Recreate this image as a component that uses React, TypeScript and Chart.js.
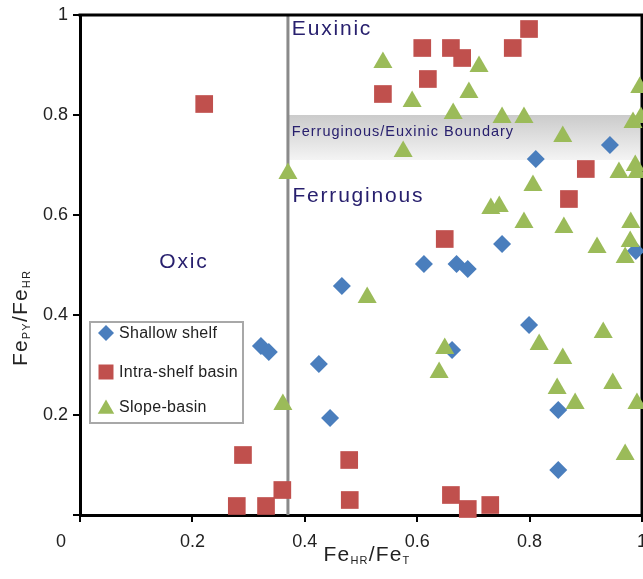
import React, { useEffect, useRef } from 'react';
import { Chart, registerables } from 'chart.js';

Chart.register(...registerables);

// ---------- data ----------
const shallowShelf: [number, number][] = [
  [0.943, 0.740], [0.811, 0.712], [0.751, 0.542], [0.612, 0.502], [0.670, 0.502],
  [0.690, 0.492], [0.466, 0.458], [0.989, 0.528], [0.799, 0.380], [0.662, 0.330],
  [0.851, 0.210], [0.851, 0.090], [0.445, 0.194], [0.425, 0.302], [0.322, 0.338],
  [0.336, 0.326],
];

const intraShelfBasin: [number, number][] = [
  [0.221, 0.822], [0.539, 0.842], [0.609, 0.934], [0.660, 0.934], [0.680, 0.914],
  [0.619, 0.872], [0.770, 0.934], [0.799, 0.972], [0.900, 0.692], [0.870, 0.632],
  [0.649, 0.552], [0.290, 0.120], [0.279, 0.018], [0.331, 0.018], [0.360, 0.050],
  [0.479, 0.110], [0.480, 0.030], [0.660, 0.040], [0.690, 0.012], [0.730, 0.020],
];

const slopeBasin: [number, number][] = [
  [0.539, 0.905], [0.710, 0.897], [0.591, 0.827], [0.692, 0.845], [0.664, 0.803],
  [0.751, 0.795], [0.790, 0.795], [0.575, 0.727], [0.859, 0.757], [0.984, 0.785],
  [0.998, 0.795], [0.996, 0.855], [0.959, 0.685], [0.988, 0.699], [0.991, 0.685],
  [0.806, 0.659], [0.731, 0.613], [0.746, 0.617], [0.790, 0.585], [0.861, 0.575],
  [0.980, 0.585], [0.920, 0.535], [0.979, 0.547], [0.970, 0.515], [0.511, 0.435],
  [0.370, 0.683], [0.649, 0.333], [0.639, 0.285], [0.817, 0.341], [0.931, 0.365],
  [0.859, 0.313], [0.849, 0.253], [0.881, 0.223], [0.948, 0.263], [0.991, 0.223],
  [0.970, 0.121], [0.361, 0.221],
];

const seriesNames = ['Shallow shelf', 'Intra-shelf basin', 'Slope-basin'];
const seriesColors = ['#4a7ebd', '#c0504d', '#9bbb59'];
const tickValues = [0, 0.2, 0.4, 0.6, 0.8, 1];

const boundaryX = 0.37;
const bandBottom = 0.71;
const bandTop = 0.80;

const regionLabels: { text: string; x: number; y: number; size: number; spacing: number }[] = [
  { text: 'Euxinic', x: 0.377, y: 0.96, size: 21, spacing: 1.8 },
  { text: 'Ferruginous/Euxinic Boundary', x: 0.377, y: 0.758, size: 14.5, spacing: 1 },
  { text: 'Ferruginous', x: 0.378, y: 0.627, size: 21, spacing: 1.8 },
  { text: 'Oxic', x: 0.141, y: 0.494, size: 21, spacing: 1.8 },
];

const FONT = '"Liberation Sans", Arial, sans-serif';
const LABEL_COLOR = '#28206e';

const fmt = (v: number) => (v === 0 ? '' : String(+v.toFixed(1)));

function drawMarker(ctx: CanvasRenderingContext2D, kind: number, cx: number, cy: number, r: number) {
  ctx.beginPath();
  if (kind === 0) {
    ctx.moveTo(cx - r, cy);
    ctx.lineTo(cx, cy - r);
    ctx.lineTo(cx + r, cy);
    ctx.lineTo(cx, cy + r);
  } else if (kind === 1) {
    const s = r * Math.SQRT1_2;
    ctx.rect(cx - s, cy - s, 2 * s, 2 * s);
  } else {
    ctx.moveTo(cx, cy - r);
    ctx.lineTo(cx + r * 0.866, cy + r * 0.5);
    ctx.lineTo(cx - r * 0.866, cy + r * 0.5);
  }
  ctx.closePath();
  ctx.fillStyle = seriesColors[kind];
  ctx.fill();
}

// draw text runs with subscripts along current baseline
function drawRuns(ctx: CanvasRenderingContext2D, runs: { t: string; sub?: boolean }[], x: number, y: number, spacing: number) {
  let cx = x;
  for (const r of runs) {
    ctx.font = r.sub ? `11px ${FONT}` : `21px ${FONT}`;
    (ctx as any).letterSpacing = `${spacing}px`;
    ctx.fillText(r.t, cx, r.sub ? y + 3 : y);
    cx += ctx.measureText(r.t).width;
  }
  (ctx as any).letterSpacing = '0px';
}

function runsWidth(ctx: CanvasRenderingContext2D, runs: { t: string; sub?: boolean }[], spacing: number) {
  let w = 0;
  for (const r of runs) {
    ctx.font = r.sub ? `11px ${FONT}` : `21px ${FONT}`;
    (ctx as any).letterSpacing = `${spacing}px`;
    w += ctx.measureText(r.t).width;
  }
  (ctx as any).letterSpacing = '0px';
  return w;
}

const decorPlugin = {
  id: 'decor',
  beforeDatasetsDraw(chart: any) {
    const { ctx, chartArea: a, scales } = chart;
    const x = scales.x, y = scales.y;
    ctx.save();
    // boundary band
    const bx0 = x.getPixelForValue(boundaryX);
    const bx1 = x.getPixelForValue(1);
    const by0 = y.getPixelForValue(bandTop);
    const by1 = y.getPixelForValue(bandBottom);
    const g = ctx.createLinearGradient(0, by0, 0, by1);
    g.addColorStop(0, '#cbcbcb');
    g.addColorStop(1, '#f4f4f4');
    ctx.fillStyle = g;
    ctx.fillRect(bx0, by0, bx1 - bx0, by1 - by0);
    // vertical boundary line
    ctx.strokeStyle = '#8a8a8a';
    ctx.lineWidth = 3;
    ctx.beginPath();
    ctx.moveTo(bx0, y.getPixelForValue(0));
    ctx.lineTo(bx0, y.getPixelForValue(1));
    ctx.stroke();
    // top and right frame
    ctx.strokeStyle = '#000';
    ctx.lineWidth = 3;
    ctx.beginPath();
    ctx.moveTo(a.left - 1.5, a.top);
    ctx.lineTo(a.right, a.top);
    ctx.lineTo(a.right, a.bottom);
    ctx.stroke();
    // region labels
    ctx.fillStyle = LABEL_COLOR;
    ctx.textAlign = 'left';
    ctx.textBaseline = 'alphabetic';
    for (const l of regionLabels) {
      ctx.font = `${l.size}px ${FONT}`;
      (ctx as any).letterSpacing = `${l.spacing}px`;
      ctx.fillText(l.text, x.getPixelForValue(l.x), y.getPixelForValue(l.y));
    }
    (ctx as any).letterSpacing = '0px';
    ctx.restore();
  },
  afterDatasetsDraw(chart: any) {
    const { ctx, chartArea: a, scales } = chart;
    const x = scales.x;
    ctx.save();
    // legend
    const lx = a.left + 10, ly = a.top + 307, lw = 153, lh = 101;
    ctx.fillStyle = '#fff';
    ctx.fillRect(lx, ly, lw, lh);
    ctx.strokeStyle = '#a8a8a8';
    ctx.lineWidth = 2;
    ctx.strokeRect(lx, ly, lw, lh);
    const rows = [ly + 11, ly + 50, ly + 85];
    const rad = [8, 10.6, 9.5];
    ctx.font = `16px ${FONT}`;
    ctx.textBaseline = 'middle';
    ctx.textAlign = 'left';
    for (let i = 0; i < 3; i++) {
      drawMarker(ctx, i, lx + 16, rows[i] + (i === 2 ? 2 : 0), rad[i]);
      ctx.fillStyle = '#222';
      (ctx as any).letterSpacing = '0.3px';
      ctx.fillText(seriesNames[i], lx + 29, rows[i] + 1);
    }
    (ctx as any).letterSpacing = '0px';
    // origin label "0"
    ctx.font = `18px ${FONT}`;
    ctx.fillStyle = '#222';
    ctx.textAlign = 'center';
    ctx.textBaseline = 'alphabetic';
    ctx.fillText('0', x.getPixelForValue(0) - 19, a.bottom + 32);
    // axis titles
    ctx.fillStyle = '#222';
    ctx.textAlign = 'left';
    const xRuns = [{ t: 'Fe' }, { t: 'HR', sub: true }, { t: '/Fe' }, { t: 'T', sub: true }];
    const xw = runsWidth(ctx, xRuns, 1.2);
    drawRuns(ctx, xRuns, (a.left + a.right) / 2 + 6 - xw / 2, a.bottom + 46, 1.2);
    const yRuns = [{ t: 'Fe' }, { t: 'PY', sub: true }, { t: '/Fe' }, { t: 'HR', sub: true }];
    const yw = runsWidth(ctx, yRuns, 1.2);
    ctx.translate(27, 318);
    ctx.rotate(-Math.PI / 2);
    drawRuns(ctx, yRuns, -yw / 2, 0, 1.2);
    ctx.restore();
  },
};

const toPts = (arr: [number, number][]) => arr.map(([x, y]) => ({ x, y }));

export default function App() {
  const ref = useRef<HTMLCanvasElement | null>(null);
  useEffect(() => {
    if (!ref.current) return;
    const tickFont = { family: FONT, size: 18 };
    const chart = new Chart(ref.current, {
      type: 'scatter',
      data: {
        datasets: [
          {
            label: seriesNames[0], data: toPts(shallowShelf), pointStyle: 'rectRot', pointRadius: 9,
            backgroundColor: seriesColors[0], borderColor: seriesColors[0], borderWidth: 0, order: 2, clip: false,
          },
          {
            label: seriesNames[1], data: toPts(intraShelfBasin), pointStyle: 'rect', pointRadius: 12.5,
            backgroundColor: seriesColors[1], borderColor: seriesColors[1], borderWidth: 0, order: 1, clip: false,
          },
          {
            label: seriesNames[2], data: toPts(slopeBasin), pointStyle: 'triangle', pointRadius: 11,
            backgroundColor: seriesColors[2], borderColor: seriesColors[2], borderWidth: 0, order: 0, clip: false,
          },
        ] as any,
      },
      options: {
        animation: false,
        responsive: false,
        layout: { autoPadding: false, padding: { top: 15, right: 1, left: 0, bottom: 0 } },
        plugins: { legend: { display: false }, tooltip: { enabled: false } },
        scales: {
          x: {
            type: 'linear', min: 0, max: 1,
            afterBuildTicks: (s: any) => { s.ticks = tickValues.map((v) => ({ value: v })); },
            afterFit: (s: any) => { s.height = 64; s.paddingLeft = 0; s.paddingRight = 0; },
            ticks: { callback: (v: any) => fmt(+v), font: tickFont, color: '#222', padding: 9, maxRotation: 0, autoSkip: false },
            grid: { display: true, drawOnChartArea: false, drawTicks: true, tickLength: 7, color: '#000', lineWidth: 2 },
            border: { display: true, width: 3, color: '#000' },
          },
          y: {
            type: 'linear', min: 0, max: 1,
            afterBuildTicks: (s: any) => { s.ticks = tickValues.map((v) => ({ value: v })); },
            afterFit: (s: any) => { s.width = 80; s.paddingTop = 0; s.paddingBottom = 0; },
            ticks: { callback: (v: any) => fmt(+v), font: tickFont, color: '#222', padding: 5, autoSkip: false },
            grid: { display: true, drawOnChartArea: false, drawTicks: true, tickLength: 7, color: '#000', lineWidth: 2 },
            border: { display: true, width: 3, color: '#000' },
          },
        },
      } as any,
      plugins: [decorPlugin],
    });
    return () => chart.destroy();
  }, []);
  return (
    <div style={{ position: 'absolute', left: 0, top: 0, width: 643, height: 579, background: '#fff' }}>
      <canvas ref={ref} width={643} height={579} style={{ display: 'block' }} />
    </div>
  );
}
